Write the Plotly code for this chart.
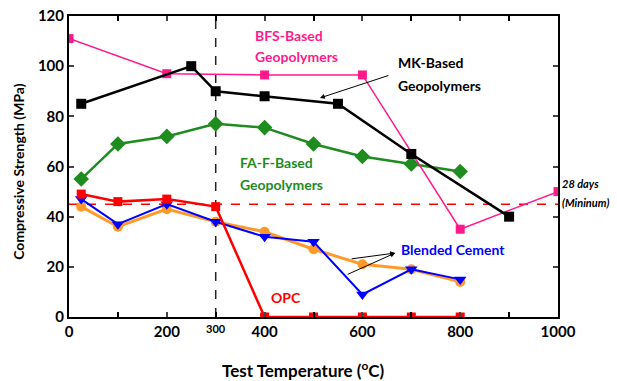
import plotly.graph_objects as go

# Data (temperature in °C, strength in MPa)
bfs_x = [0, 200, 400, 600, 800, 1000]
bfs_y = [111, 97, 96.5, 96.5, 35, 50]
mk_x = [25, 250, 300, 400, 550, 700, 900]
mk_y = [85, 100, 90, 88, 85, 65, 40]
fa_x = [25, 100, 200, 300, 400, 500, 600, 700, 800]
fa_y = [55, 69, 72, 77, 75.5, 69, 64, 61, 58]
opc_x = [25, 100, 200, 300, 400, 500, 600, 700, 800]
opc_y = [49, 46, 47, 44, 0, 0, 0, 0, 0]
orange_x = [25, 100, 200, 300, 400, 500, 600, 700, 800]
orange_y = [44, 36, 43, 38, 34, 27, 21, 19, 14]
blue_x = [25, 100, 200, 300, 400, 500, 600, 700, 800]
blue_y = [47, 37, 45, 38, 32, 30, 9, 19, 15]
min_28d = 45
ref_temp = 300

x_ticks = [0, 200, 400, 600, 800, 1000]
y_ticks = [0, 20, 40, 60, 80, 100, 120]

FONT = "Lato"
PINK = "#FF1A8C"
GREEN = "#1E8C1E"
RED = "#FF0000"
ORANGE = "#FF9A2A"
BLUE = "#0000FF"

fig = go.Figure()

# reference lines
fig.add_trace(go.Scatter(x=[0, 1000], y=[min_28d, min_28d], mode="lines",
                         line=dict(color=RED, width=1.5, dash="dash"), hoverinfo="skip"))
fig.add_trace(go.Scatter(x=[ref_temp, ref_temp], y=[0, 120], mode="lines",
                         line=dict(color="#222222", width=1.5, dash="dash"), hoverinfo="skip"))

fig.add_trace(go.Scatter(x=orange_x, y=orange_y, mode="lines+markers",
                         line=dict(color=ORANGE, width=3),
                         marker=dict(symbol="circle", size=10, color=ORANGE)))
fig.add_trace(go.Scatter(x=blue_x, y=blue_y, mode="lines+markers",
                         line=dict(color=BLUE, width=2),
                         marker=dict(symbol="triangle-down", size=11, color=BLUE)))
fig.add_trace(go.Scatter(x=opc_x, y=opc_y, mode="lines+markers",
                         line=dict(color=RED, width=2.5),
                         marker=dict(symbol="square", size=9, color=RED)))
fig.add_trace(go.Scatter(x=fa_x, y=fa_y, mode="lines+markers",
                         line=dict(color=GREEN, width=2.5),
                         marker=dict(symbol="diamond", size=12, color=GREEN)))
fig.add_trace(go.Scatter(x=bfs_x, y=bfs_y, mode="lines+markers",
                         line=dict(color=PINK, width=1.5),
                         marker=dict(symbol="square", size=9, color=PINK)))
fig.add_trace(go.Scatter(x=mk_x, y=mk_y, mode="lines+markers",
                         line=dict(color="black", width=2.5),
                         marker=dict(symbol="square", size=10, color="black")))


def txt(x, y, s, color, size=14, italic=False, anchor="left", xref="x", yref="y", angle=0):
    fig.add_annotation(x=x, y=y, xref=xref, yref=yref, text=s, showarrow=False,
                       xanchor=anchor, yanchor="middle", textangle=angle,
                       font=dict(family=FONT, size=size, color=color, weight="bold",
                                 style="italic" if italic else "normal"))


txt(376, 112.4, "BFS-Based", PINK)
txt(376, 103.7, "Geopolymers", PINK)
txt(669, 101.3, "MK-Based", "black")
txt(669, 92.1, "Geopolymers", "black")
txt(346, 61.4, "FA-F-Based", GREEN)
txt(346, 53, "Geopolymers", GREEN)
txt(444, 7.6, "OPC", RED, anchor="center")
txt(675, 27.1, "Blended Cement", BLUE)
txt(1.004, 53.4, "28 days", "black", size=11, italic=True, xref="paper")
txt(1.004, 45.5, "(Mininum)", "black", size=11, italic=True, xref="paper")

# axis titles
txt(0.48, -0.176, "Test Temperature (<sup>o</sup>C)", "black", size=17, anchor="center",
    xref="paper", yref="paper")
txt(-0.104, 0.483, "Compressive Strength (MPa)", "black", size=14, anchor="center",
    xref="paper", yref="paper", angle=-90)

# arrows
fig.add_annotation(x=513, y=87.3, xref="x", yref="y", ax=70, ay=-23, text="",
                   showarrow=True, arrowhead=2, arrowsize=1, arrowwidth=1, arrowcolor="black")
fig.add_annotation(x=667, y=25.5, xref="x", yref="y", ax=-45, ay=6, text="",
                   showarrow=True, arrowhead=2, arrowsize=1, arrowwidth=1, arrowcolor="black")
fig.add_annotation(x=667, y=25.5, xref="x", yref="y", ax=-49, ay=22, text="",
                   showarrow=True, arrowhead=2, arrowsize=1, arrowwidth=1, arrowcolor="black")

# small "300" tick label
fig.add_annotation(x=300, y=0, xref="x", yref="paper", text="300", showarrow=False,
                   yshift=-11, yanchor="middle",
                   font=dict(family=FONT, size=11, color="black", weight="bold"))

fig.update_layout(
    width=617, height=381,
    margin=dict(l=69, r=59, t=16, b=64, autoexpand=False),
    plot_bgcolor="white", paper_bgcolor="white",
    showlegend=False,
    font=dict(family=FONT, color="black"),
)
fig.update_xaxes(range=[0, 1000], tickvals=x_ticks, ticks="inside", ticklen=5, tickwidth=1.5,
                 minor=dict(dtick=100, ticks="inside", ticklen=5, tickwidth=1.5, tickcolor="black"),
                 showline=True, linecolor="black", linewidth=2, mirror="allticks",
                 showgrid=False, zeroline=False, automargin=False,
                 tickfont=dict(family=FONT, size=15, color="black", weight="bold"))
fig.update_yaxes(range=[0, 120], tickvals=y_ticks, ticks="inside", ticklen=5, tickwidth=1.5,
                 showline=True, linecolor="black", linewidth=2, mirror="allticks",
                 showgrid=False, zeroline=False, automargin=False,
                 tickfont=dict(family=FONT, size=15, color="black", weight="bold"))

fig.write_html("out.html", config={"displayModeBar": False},
               post_script="document.body.style.margin='0';")
